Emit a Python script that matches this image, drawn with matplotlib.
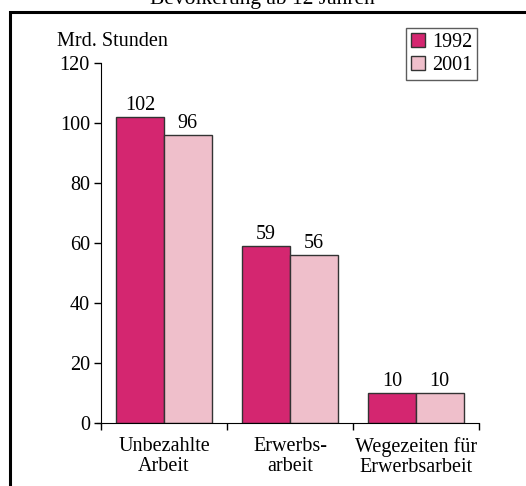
import matplotlib
matplotlib.use('Agg')
import matplotlib.pyplot as plt
from matplotlib.patches import Rectangle
import numpy as np

categories = ['Unbezahlte\nArbeit', 'Erwerbs-\narbeit', 'Wegezeiten für\nErwerbsarbeit']
years = ['1992', '2001']
values_1992 = [102, 59, 10]
values_2001 = [96, 56, 10]
colors = ['#D42670', '#EFBFCB']

plt.rcParams['font.family'] = ['Liberation Serif', 'DejaVu Serif']
plt.rcParams['font.size'] = 14.5

fig = plt.figure(figsize=(5.26, 4.86), dpi=100)
W, H = 526.0, 486.0

# outer frame (extends past right and bottom edges)
fig.patches.append(Rectangle((10 / W, -0.1), 1.2, 1 + 0.1 - 12 / H, transform=fig.transFigure,
                             fill=False, edgecolor='black', linewidth=2.2))
# title above the frame, cut off by the top edge as in the source
fig.text(262 / W, 1 - 4 / H, 'Bevölkerung ab 12 Jahren', ha='center', va='baseline', fontsize=15.5)

ax = fig.add_axes([101 / W, 63.3 / H, 378 / W, 360 / H])
x = np.arange(len(categories))
bw = 0.377
for i, (vals, year) in enumerate(zip([values_1992, values_2001], years)):
    pos = x + (i - 0.5) * bw
    ax.bar(pos, vals, bw, color=colors[i], edgecolor='#333333', linewidth=1.0, label=year)
    for p, v in zip(pos, vals):
        ax.text(p, v + 0.6, str(v), ha='center', va='bottom')

ax.set_xlim(-0.5, 2.5)
ax.set_ylim(0, 120)
ax.set_yticks(range(0, 121, 20))
ax.set_xticks([-0.5, 0.5, 1.5, 2.5])
ax.set_xticklabels([])
ax.set_xticks(x, minor=True)
ax.set_xticklabels(categories, minor=True, linespacing=1.03)
ax.tick_params(axis='x', which='minor', length=0, pad=10.5)
ax.tick_params(axis='x', which='major', direction='out', length=5, width=1)
ax.tick_params(axis='y', direction='out', length=5, width=1, pad=3)
ax.spines['top'].set_visible(False)
ax.spines['right'].set_visible(False)
ax.spines['bottom'].set_bounds(-0.53, 2.5)

fig.text(57 / W, 1 - 45.7 / H, 'Mrd. Stunden', ha='left', va='baseline')

leg = ax.legend(loc='upper left', bbox_to_anchor=(406 / W, 1 - 28 / H), bbox_transform=fig.transFigure,
                frameon=True, fancybox=False, edgecolor='#333333', handlelength=0.7, handleheight=0.7,
                handletextpad=0.35, borderpad=0.25, labelspacing=0.2, borderaxespad=0)
leg.get_frame().set_linewidth(1.0)

fig.savefig('out.png', dpi=100)
